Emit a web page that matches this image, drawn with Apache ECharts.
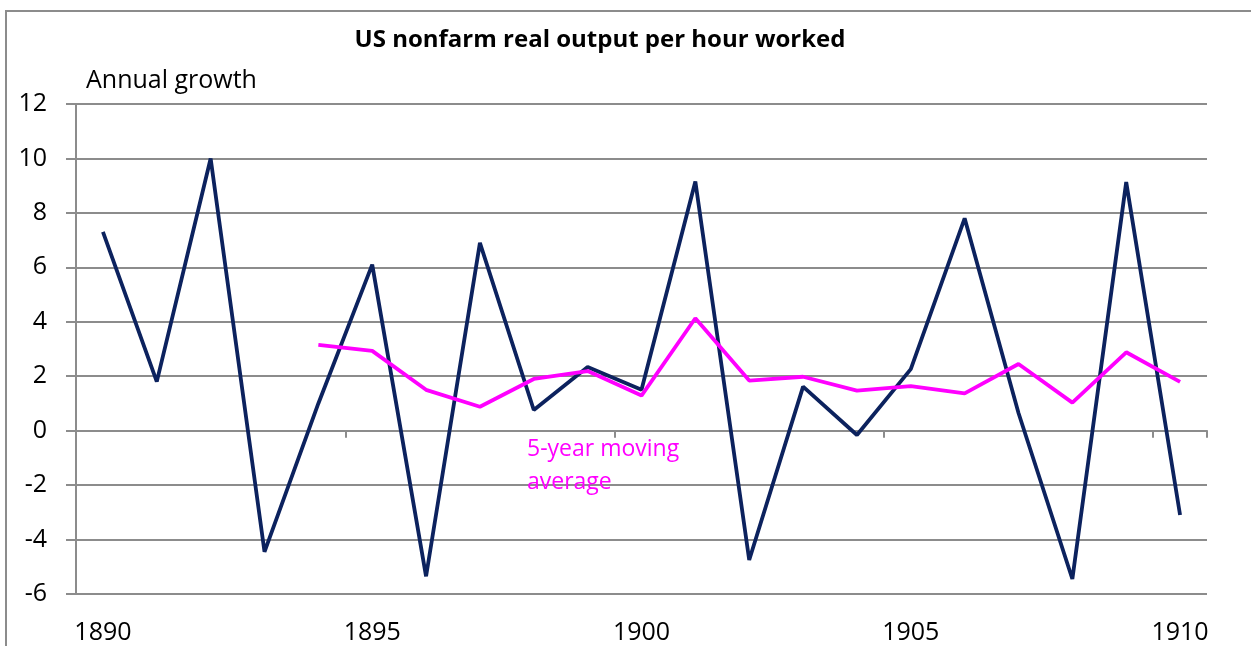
<!DOCTYPE html>
<html>
<head>
<meta charset="utf-8">
<script src="https://cdn.jsdelivr.net/npm/echarts@6/dist/echarts.min.js"></script>
<style>
html,body{margin:0;padding:0;background:#fff;}
#chart{width:1251px;height:646px;}
</style>
</head>
<body>
<div id="chart"></div>
<script>
var years = ['1890','1891','1892','1893','1894','1895','1896','1897','1898','1899','1900','1901','1902','1903','1904','1905','1906','1907','1908','1909','1910'];
var growth = [7.3, 1.8, 10.0, -4.45, 1.0, 6.1, -5.35, 6.9, 0.76, 2.34, 1.5, 9.15, -4.75, 1.62, -0.16, 2.26, 7.8, 0.65, -5.45, 9.13, -3.1];
var movingAvg = [null, null, null, null, 3.15, 2.93, 1.5, 0.88, 1.9, 2.19, 1.29, 4.13, 1.84, 1.98, 1.47, 1.64, 1.37, 2.45, 1.03, 2.88, 1.79];
var yTicks = {min: -6, max: 12, interval: 2};
var titleText = 'US nonfarm real output per hour worked';
var yLabelText = 'Annual growth';
var maLabelText = '5-year moving\naverage';

var FONT = '"Open Sans", "Noto Sans", sans-serif';
var GRID = '#8c8c8c';
var chart = echarts.init(document.getElementById('chart'), null, {renderer: 'canvas'});
chart.setOption({
  backgroundColor: '#ffffff',
  animation: false,
  graphic: [{
    type: 'rect', z: -1,
    shape: {x: 6, y: 11, width: 1400, height: 800},
    style: {fill: '#ffffff', stroke: '#8c8c8c', lineWidth: 2}
  }],
  title: [
    {text: titleText, left: 600, top: 28, textAlign: 'center', padding: 0,
     textStyle: {fontFamily: FONT, fontSize: 24, fontWeight: 'bold', color: '#000'}},
    {text: yLabelText, left: 86, top: 68, padding: 0,
     textStyle: {fontFamily: FONT, fontSize: 25, fontWeight: 'normal', color: '#000'}},
    {text: maLabelText, left: 527, top: 433, padding: 0,
     textStyle: {fontFamily: FONT, fontSize: 23, fontWeight: 'normal', color: '#ff00ff', lineHeight: 33}}
  ],
  grid: {left: 76, right: 44, top: 104, bottom: 52, containLabel: false},
  xAxis: [{
    type: 'category', data: years, boundaryGap: true, position: 'bottom',
    axisLine: {show: false, onZero: false},
    axisTick: {show: false},
    axisLabel: {show: true, interval: 4, margin: 26, fontFamily: FONT, fontSize: 25, color: '#000'},
    splitLine: {show: false}
  }, {
    type: 'category', data: years, boundaryGap: true, position: 'bottom',
    axisLine: {show: true, onZero: true, lineStyle: {color: GRID, width: 2}},
    axisTick: {show: true, interval: 4, length: 7, inside: false, lineStyle: {color: GRID, width: 2}},
    axisLabel: {show: false},
    splitLine: {show: false}
  }],
  yAxis: {
    type: 'value', min: yTicks.min, max: yTicks.max, interval: yTicks.interval,
    axisLine: {show: true, lineStyle: {color: GRID, width: 2}},
    axisTick: {show: true, length: 10, lineStyle: {color: GRID, width: 2}},
    axisLabel: {margin: 29, fontFamily: FONT, fontSize: 25, color: '#000'},
    splitLine: {show: true, lineStyle: {color: GRID, width: 2}}
  },
  series: [{
    name: 'Annual growth', type: 'line', data: growth, xAxisIndex: 0,
    symbol: 'none', lineStyle: {color: '#0c225e', width: 3.8}, z: 3
  }, {
    name: '5-year moving average', type: 'line', data: movingAvg, xAxisIndex: 0,
    symbol: 'none', connectNulls: false, lineStyle: {color: '#ff00ff', width: 3.8}, z: 4
  }]
});
</script>
</body>
</html>
